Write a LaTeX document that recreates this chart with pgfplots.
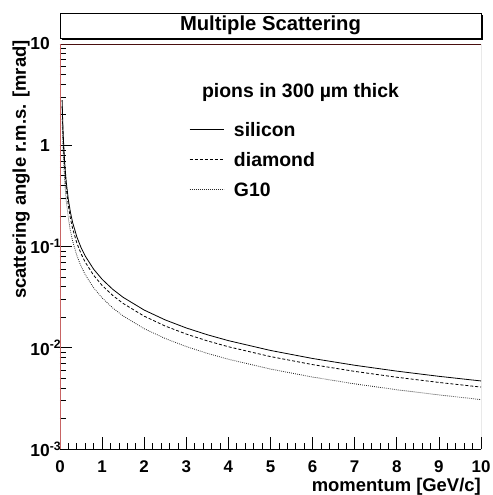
\documentclass[border=0pt]{standalone}
\usepackage{pgfplots}
\pgfplotsset{compat=1.18}
\usepackage{fontspec}
\setmainfont{Liberation Sans}
\definecolor{framered}{HTML}{4A0F0F}
\definecolor{sidered}{HTML}{C86464}

\begin{document}
\begin{tikzpicture}[x=1bp,y=1bp]
\useasboundingbox (-60,-46) rectangle (433,449);

% title box with drop shadow
\fill[black] (2,409) rectangle (423,434);
\filldraw[fill=white,draw=black,line width=0.6bp] (0,411) rectangle (421,436);
\node[font=\bfseries\fontsize{20.3}{20.3}\selectfont] at (210.5,423.5) {Multiple Scattering};

\begin{axis}[
  at={(0,0)}, anchor=south west,
  width=421bp, height=405bp, scale only axis,
  xmin=0, xmax=10,
  ymode=log, ymin=1e-3, ymax=10,
  axis line style={draw=none},
  tick align=inside, tick pos=left,
  major tick length=12bp, minor tick length=6bp,
  every tick/.style={black, line width=0.7bp},
  xtick={0,1,...,10}, minor x tick num=4,
  ytick={1e-3,1e-2,1e-1,1,10},
  yticklabels={10\rlap{\textsuperscript{-3}}\hspace{5bp},
               10\rlap{\textsuperscript{-2}}\hspace{5bp},
               10\rlap{\textsuperscript{-1}}\hspace{5bp},
               1\hspace{8bp}, 10},
  /pgf/number format/assume math mode=true,
  xticklabel style={font=\bfseries\fontsize{17}{17}\selectfont, anchor=north, inner sep=0pt,
    text height=12.2bp, text depth=0bp, yshift=-11bp},
  yticklabel style={font=\bfseries\fontsize{17.5}{17.5}\selectfont, anchor=east, inner sep=0pt, xshift=-10bp},
  xlabel={momentum [GeV/c]},
  ylabel={scattering angle r.m.s. [mrad]},
  xlabel style={font=\bfseries\fontsize{18.5}{18.5}\selectfont, at={(axis description cs:1,0)}, anchor=north east, inner sep=0pt, yshift=-29bp},
  ylabel style={font=\bfseries\fontsize{18.5}{18.5}\selectfont, at={(axis description cs:0,1)}, anchor=south east, inner sep=0pt, xshift=4bp, yshift=30bp},
  clip=true,
  legend style={draw=none, fill=none, at={(0.2993,0.812)}, anchor=north west,
    font=\bfseries\fontsize{19.5}{19.5}\selectfont, row sep=12bp,
    nodes={inner sep=0pt, text height=14bp, text depth=4bp},
    /tikz/every odd column/.append style={column sep=10bp}},
  legend cell align=left,
  legend image code/.code={\draw[#1] (0bp,2bp) -- (34bp,2bp);},
]

% silicon
\addplot[black, line width=0.8bp] coordinates {
(0.05,2.787) (0.06,1.983) (0.07,1.4977) (0.08,1.1814) (0.1,0.8070)
(0.12,0.6008) (0.15,0.4280) (0.2,0.28657) (0.25,0.21531) (0.3,0.17279)
(0.4,0.12445) (0.5,0.09759) (0.6,0.08042) (0.8,0.05964) (1,0.04746)
(1.25,0.037834) (1.5,0.031468) (2,0.023557) (2.5,0.018829) (3,0.015684)
(3.5,0.013439) (4,0.011757) (5,0.009404) (6,0.007835) (7,0.006716)
(8,0.005876) (9,0.005223) (10,0.004700)};
\addlegendentry{silicon}

% diamond
\addplot[black, line width=0.8bp, dash pattern=on 3bp off 2bp] coordinates {
(0.05,2.425) (0.06,1.725) (0.07,1.3030) (0.08,1.0278) (0.1,0.7021)
(0.12,0.5227) (0.15,0.3724) (0.2,0.24932) (0.25,0.18732) (0.3,0.15033)
(0.4,0.10827) (0.5,0.08490) (0.6,0.06997) (0.8,0.05189) (1,0.04129)
(1.25,0.032916) (1.5,0.027377) (2,0.020495) (2.5,0.016381) (3,0.013645)
(3.5,0.011692) (4,0.010229) (5,0.008181) (6,0.006816) (7,0.005843)
(8,0.005112) (9,0.004544) (10,0.004089)};
\addlegendentry{diamond}

% G10
\addplot[black!85, line width=0.8bp, dash pattern=on 0.8bp off 1.2bp] coordinates {
(0.05,1.825) (0.06,1.299) (0.07,0.9810) (0.08,0.7738) (0.1,0.5286)
(0.12,0.3935) (0.15,0.2803) (0.2,0.18770) (0.25,0.14103) (0.3,0.11318)
(0.4,0.08151) (0.5,0.06392) (0.6,0.05268) (0.8,0.03906) (1,0.03109)
(1.25,0.024781) (1.5,0.020612) (2,0.015430) (2.5,0.012333) (3,0.010273)
(3.5,0.008803) (4,0.007701) (5,0.006160) (6,0.005132) (7,0.004399)
(8,0.003849) (9,0.003421) (10,0.003079)};
\addlegendentry{G10}

% frame
\draw[black, line width=0.8bp] (rel axis cs:0,0) -- (rel axis cs:1,0);
\draw[black!70, line width=0.8bp] (rel axis cs:1,0) -- (rel axis cs:1,1);
\draw[framered, line width=0.8bp] (rel axis cs:0,1) -- (rel axis cs:1,1);
\draw[sidered, line width=0.5bp] (rel axis cs:0,0) -- (rel axis cs:0,1);

\node[font=\bfseries\fontsize{19.5}{19.5}\selectfont, anchor=base, inner sep=0pt]
  at (rel axis cs:0.5713,0.8691) {pions in 300 µm thick};
\end{axis}
\end{tikzpicture}
\end{document}
